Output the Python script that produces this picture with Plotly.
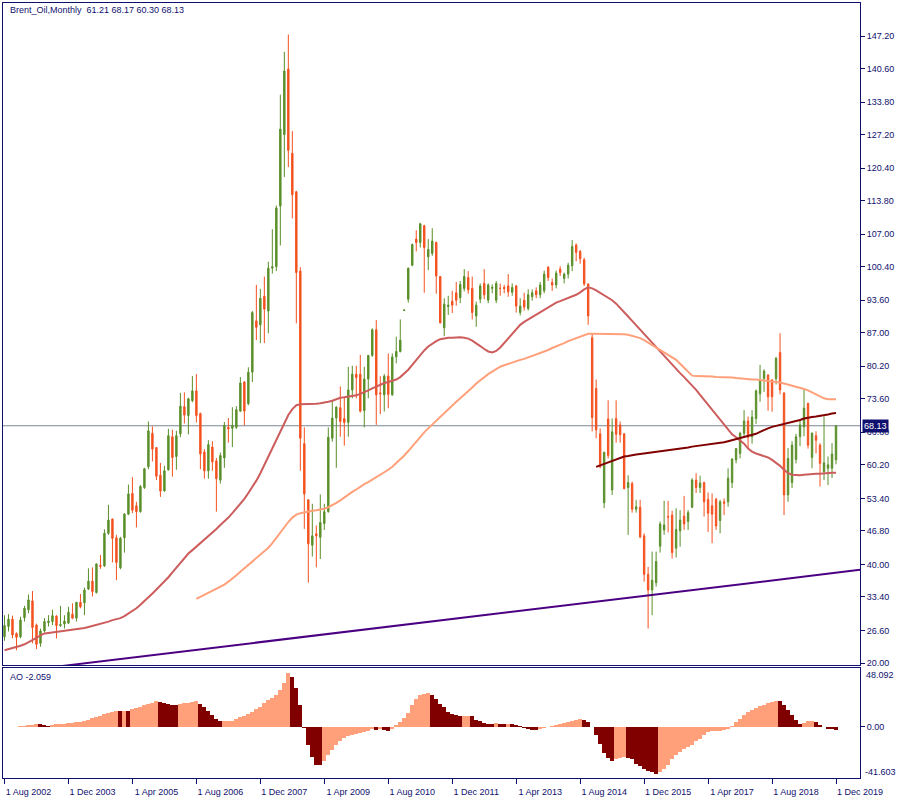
import plotly.graph_objects as go

# ---------------- data (monthly bars, Aug 2002 .. Dec 2019) ----------------
bar_open = [25.3,27.4,28.9,26.0,25.3,29.2,30.8,32.6,27.7,24.0,
26.5,28.2,28.4,29.5,27.6,27.9,28.1,29.9,29.1,32.3,
32.2,35.0,36.6,34.3,39.8,39.7,46.3,49.2,45.4,39.3,
45.4,50.2,54.4,51.9,50.7,55.6,59.8,66.6,63.7,58.1,
54.9,59.2,65.9,61.9,66.5,72.0,70.2,73.2,75.2,70.6,
62.8,59.0,63.8,61.0,57.1,61.6,67.8,67.6,67.8,71.1,
77.0,72.6,79.0,89.4,88.6,94.4,91.4,100.1,100.4,112.7,
127.2,140.5,123.4,115.6,99.5,64.5,53.1,43.9,46.2,45.5,
48.3,50.7,65.6,69.7,71.8,69.6,68.8,75.4,78.6,78.6,
71.2,77.6,82.4,87.6,74.8,74.4,78.2,74.4,82.1,83.2,
91.5,93.8,100.7,106.0,105.3,108.7,102.4,103.1,105.3,98.4,
88.0,92.3,93.4,95.1,94.1,96.0,98.2,96.0,90.4,93.8,
97.0,93.6,96.0,93.6,96.0,96.2,96.5,95.2,96.5,91.1,
93.6,91.9,94.3,95.5,94.7,95.5,100.3,97.2,96.7,99.9,
98.0,98.9,100.6,104.8,103.5,101.8,96.9,86.0,75.7,66.5,
52.5,69.5,55.1,69.6,68.3,66.5,55.6,56.4,51.2,51.6,
45.8,38.0,34.8,36.3,43.7,47.0,49.7,50.0,43.3,46.8,
49.8,48.7,51.6,57.1,55.6,56.6,53.2,51.9,53.2,48.9,
52.7,52.7,56.6,61.2,62.5,66.6,69.1,65.9,69.6,74.6,
77.7,78.4,77.4,77.7,83.0,74.8,54.1,56.6,61.3,65.9,
67.9,72.7,61.7,66.1,64.2,58.8,59.5,59.5,61.21]

bar_high = [29.7,29.9,29.6,26.2,29.4,31.6,33.9,34.6,28.0,27.0,
29.1,29.7,30.8,29.7,31.6,29.7,31.4,32.1,32.4,34.0,
35.3,39.2,39.4,40.2,41.9,47.1,52.1,49.3,46.0,45.6,
50.4,56.2,57.7,52.7,56.1,59.6,69.0,68.0,63.8,60.6,
60.0,67.5,67.3,67.1,74.8,74.9,73.8,78.2,78.6,70.8,
63.4,65.2,65.0,61.6,62.7,68.9,69.7,71.9,72.1,78.0,
77.2,80.0,91.4,96.7,95.9,98.4,101.4,108.0,112.8,135.3,
144.0,147.5,127.9,115.8,100.3,67.8,53.2,52.3,47.9,54.2,
52.3,67.8,73.4,72.1,76.1,74.0,80.1,80.3,80.3,82.5,
80.1,82.5,87.9,89.6,78.2,78.6,82.8,82.8,86.2,89.7,
91.7,100.2,105.1,107.8,109.3,108.9,106.0,108.2,105.5,98.5,
94.0,94.5,95.5,97.3,97.5,99.9,99.5,98.4,93.3,97.0,
99.9,97.0,96.8,97.5,97.0,96.7,98.9,97.0,96.7,94.0,
95.1,95.8,95.8,96.2,97.3,99.6,100.5,98.0,99.6,100.5,
99.2,101.2,105.8,105.1,103.8,102.2,97.0,86.9,77.5,67.6,
62.9,73.3,69.6,73.3,69.0,66.6,58.1,56.8,53.1,53.1,
46.3,39.5,42.6,42.6,48.7,52.9,52.9,50.9,51.4,51.0,
53.9,51.0,57.5,58.5,58.0,56.8,54.6,54.4,53.5,53.1,
53.4,59.5,61.5,63.6,66.9,71.3,70.0,71.3,75.5,80.5,
79.6,78.6,77.6,82.1,86.9,74.9,63.6,65.0,66.5,69.3,
75.5,72.7,66.8,67.0,64.6,70.0,61.9,64.6,68.17]

bar_low = [24.5,26.4,25.0,22.6,25.0,28.4,30.1,24.0,22.8,23.3,
26.2,27.4,27.7,25.0,27.3,27.0,27.9,28.9,28.4,31.1,
29.7,34.8,33.5,34.1,39.1,39.5,46.0,40.4,36.8,39.0,
42.4,50.0,50.4,47.5,50.5,55.3,59.3,60.9,57.1,53.7,
54.8,59.0,57.8,59.2,65.8,68.6,66.4,72.9,68.8,59.3,
57.4,57.4,59.0,50.7,56.4,59.6,64.7,63.8,67.5,70.9,
68.2,72.3,77.0,85.5,84.9,84.9,86.9,99.0,99.5,104.7,
118.6,120.6,110.2,88.9,59.0,47.2,36.3,41.6,39.4,41.1,
47.0,50.5,64.9,59.6,65.9,64.1,65.9,73.7,73.7,70.8,
67.8,73.7,82.1,68.3,70.5,71.0,71.7,74.2,80.8,83.0,
91.5,93.1,100.5,103.5,104.3,95.1,99.7,102.6,94.9,88.9,
86.3,90.6,91.0,92.5,93.0,95.4,94.9,89.7,88.2,93.0,
93.8,93.0,95.0,93.0,94.5,95.0,94.3,94.5,91.1,90.5,
91.5,91.5,93.5,94.0,94.0,95.0,97.5,95.5,96.0,98.5,
97.0,98.0,99.5,101.5,101.0,96.5,88.6,67.0,65.6,59.5,
51.4,61.5,54.1,64.7,64.7,55.2,46.0,50.5,50.5,45.3,
36.5,27.0,29.7,35.5,42.4,46.0,46.5,41.2,41.4,43.6,
47.0,47.0,51.4,54.5,54.5,49.7,46.6,44.3,47.0,46.3,
50.0,51.7,55.5,60.5,61.5,66.0,63.5,64.5,68.5,73.0,
75.0,71.2,71.0,76.5,74.5,50.0,52.7,55.5,60.5,64.0,
66.0,63.5,59.5,62.5,55.8,57.1,56.1,57.5,60.30]

bar_close = [27.6,28.9,25.7,25.2,28.7,31.1,32.8,27.2,23.8,26.5,
28.4,28.5,29.6,27.6,27.8,28.5,30.3,29.1,32.3,31.4,
34.8,36.6,34.5,40.1,39.6,46.3,49.0,45.3,40.4,45.3,
50.2,54.3,51.0,50.7,55.8,59.4,67.1,63.4,57.9,54.9,
59.0,66.1,61.7,66.1,72.1,70.3,73.6,75.2,70.2,62.4,
59.0,64.3,60.8,57.4,62.1,68.2,67.5,68.2,71.4,76.8,
71.1,79.0,91.1,88.1,94.0,91.8,100.1,100.4,112.3,128.3,
140.1,124.0,115.0,99.2,65.6,54.3,44.2,45.8,45.8,48.5,
50.7,65.8,69.7,71.9,69.0,68.8,75.4,78.6,77.9,71.1,
77.6,82.4,87.6,74.4,74.6,78.2,74.5,82.1,83.2,85.5,
91.6,100.1,104.9,105.3,109.1,104.3,103.9,105.6,98.5,89.0,
92.8,92.6,92.6,93.6,96.8,98.4,95.7,91.1,92.6,96.5,
94.7,96.7,96.2,97.0,96.0,96.0,95.3,96.2,92.4,92.4,
92.2,94.7,95.1,94.7,96.7,98.9,98.2,96.7,99.1,99.2,
98.9,100.7,104.5,103.3,102.0,96.9,90.4,69.8,67.3,59.8,
62.7,62.1,66.9,66.4,66.3,55.4,56.6,51.2,51.7,45.6,
38.0,34.8,36.8,40.6,48.2,48.0,49.6,42.4,47.1,49.0,
48.2,50.5,57.1,55.6,56.5,52.7,50.4,50.2,47.8,52.7,
52.4,57.5,61.4,63.5,66.6,69.1,65.8,69.9,75.2,77.4,
79.2,74.0,74.0,81.8,75.4,54.1,61.5,64.2,65.9,68.3,
71.7,64.2,66.6,65.2,60.5,60.6,60.2,62.4,68.13]

ma_red = [22.6,22.8,23.0,23.2,23.5,23.8,24.2,24.6,25.1,25.6,
26.0,26.1,26.2,26.3,26.4,26.5,26.6,26.7,26.8,26.9,
27.1,27.3,27.5,27.7,27.9,28.1,28.4,28.7,28.9,29.1,
29.5,30.0,30.5,31.1,31.8,32.5,33.3,34.1,34.9,35.7,
36.5,37.4,38.4,39.4,40.4,41.4,42.2,42.9,43.6,44.3,
45.0,45.7,46.4,47.2,48.0,48.7,49.5,50.4,51.3,52.3,
53.3,54.5,55.7,57.0,58.5,60.2,61.9,63.5,65.2,66.9,
68.7,70.3,71.5,72.3,72.5,72.5,72.5,72.5,72.6,72.7,
72.8,73.0,73.2,73.5,73.8,73.9,74.0,74.1,74.3,74.6,
74.9,75.3,75.7,76.1,76.5,76.8,77.0,77.2,77.5,78.0,
78.7,79.5,80.5,81.5,82.5,83.4,84.2,84.8,85.3,85.7,
85.9,86.0,86.0,86.1,86.1,86.0,85.8,85.4,84.9,84.3,
83.7,83.2,83.0,83.3,84.0,84.9,85.9,86.9,87.8,88.6,
89.2,89.7,90.2,90.7,91.2,91.7,92.2,92.7,93.1,93.4,
93.7,94.0,94.3,94.7,95.2,95.8,96.2,96.0,95.6,95.1,
94.6,94.1,93.6,92.9,92.1,91.2,90.3,89.4,88.5,87.6,
86.7,85.8,84.9,84.0,83.1,82.3,81.4,80.5,79.6,78.8,
78.0,77.2,76.3,75.4,74.4,73.4,72.4,71.3,70.3,69.3,
68.3,67.3,66.4,65.8,65.2,64.5,63.5,62.9,62.5,62.2,
62.0,61.7,61.2,60.6,60.0,59.2,58.5,58.2,58.1,58.1,
58.2,58.3,58.3,58.4,58.4,58.5,58.5,58.6,58.6]

ma_salmon_start = 48
ma_salmon = [33.0,33.4,33.9,34.3,34.7,35.1,35.5,35.9,36.5,37.1,
37.8,38.5,39.2,39.9,40.6,41.3,42.0,42.6,43.4,44.3,
45.4,46.4,47.5,48.6,49.5,50.1,50.4,50.6,50.8,50.9,
51.0,51.1,51.3,51.6,52.0,52.5,53.0,53.6,54.1,54.7,
55.2,55.8,56.3,56.7,57.2,57.6,58.1,58.6,59.2,59.8,
60.5,61.2,62.1,63.0,64.0,64.9,65.9,66.8,67.6,68.4,
69.2,70.0,70.8,71.5,72.3,73.0,73.7,74.4,75.2,75.9,
76.7,77.4,78.0,78.6,79.1,79.6,80.1,80.4,80.7,81.0,
81.2,81.5,81.7,82.0,82.3,82.5,82.8,83.1,83.5,83.9,
84.2,84.6,84.9,85.3,85.6,86.0,86.3,86.6,86.8,86.8,
86.8,86.8,86.8,86.8,86.8,86.8,86.8,86.7,86.6,86.4,
86.2,85.9,85.5,85.0,84.5,84.0,83.5,83.0,82.5,82.0,
81.5,80.7,79.9,79.0,78.3,78.2,78.2,78.1,78.1,78.1,
78.0,78.0,78.0,77.9,77.9,77.8,77.7,77.6,77.6,77.5,
77.5,77.4,77.4,77.3,77.2,77.1,76.9,76.7,76.5,76.3,
76.1,75.9,75.6,75.3,74.9,74.5,74.1,73.7,73.5,73.5,
73.5]

ma_maroon_start = 148
ma_maroon = [59.8,60.1,60.4,60.8,61.1,61.4,61.7,61.9,62.0,62.2,
62.3,62.4,62.5,62.6,62.7,62.8,62.9,63.1,63.2,63.3,
63.4,63.5,63.6,63.7,63.9,64.0,64.1,64.2,64.3,64.4,
64.6,64.7,64.8,65.0,65.2,65.4,65.6,65.8,66.0,66.2,
66.5,66.9,67.3,67.6,67.9,68.1,68.3,68.4,68.6,68.8,
69.0,69.3,69.6,69.8,69.9,70.0,70.1,70.3,70.4,70.6,
70.7]

trend_x = [14.5, 214.0]
trend_y = [19.4, 38.9]

ao_values = [0.2,0.25,0.3,0.35,0.8,1.2,1.6,2.0,2.6,2.4,
1.3,0.8,1.5,2.2,2.6,2.8,3.0,3.2,3.8,4.4,
5.2,6.1,7.0,8.0,9.2,10.3,11.5,12.5,13.0,12.8,
13.3,12.9,14.3,15.5,16.5,17.6,18.7,19.8,20.8,20.4,
19.7,19.0,18.3,17.8,18.5,19.2,19.8,20.4,20.9,18.5,
16.0,12.8,9.5,6.5,4.6,4.7,4.8,4.9,6.6,7.9,
9.3,10.9,12.5,14.7,16.6,19.3,22.0,23.9,25.8,29.9,
36.1,44.3,40.7,31.8,17.7,-0.6,-14.4,-24.8,-30.7,-31.3,
-28.0,-23.1,-19.1,-15.0,-11.4,-8.7,-7.4,-6.3,-5.7,-5.2,
-4.1,-3.0,-1.9,-2.5,-1.9,-2.6,-3.3,-1.9,1.3,4.0,
7.6,11.7,17.6,22.5,25.8,27.1,28.0,26.3,22.5,19.0,
16.3,12.2,10.8,9.5,8.9,9.2,9.3,8.9,5.4,4.6,
3.5,2.7,2.5,3.5,2.7,2.5,2.8,2.1,1.3,0.5,
-0.8,-1.9,-2.4,-2.5,-1.9,-0.8,0.0,0.8,1.6,2.4,
3.2,4.0,4.9,5.4,6.2,5.9,4.0,0.0,-6.3,-13.6,
-21.0,-25.3,-28.0,-25.8,-25.0,-24.5,-25.3,-25.8,-29.9,-31.8,
-34.0,-35.6,-36.7,-38.1,-36.7,-34.0,-30.7,-25.8,-23.1,-20.4,
-18.2,-16.3,-14.4,-11.7,-9.5,-6.8,-4.1,-3.6,-3.3,-3.0,
-2.2,-1.4,0.5,4.0,6.8,10.0,12.2,14.1,15.7,17.1,
18.2,19.5,20.6,21.2,20.9,17.6,13.5,9.5,6.0,2.1,
2.9,4.5,5.0,3.8,1.8,0.2,-1.5,-2.0,-2.059]

price_ticks = [147.20,140.60,133.80,127.20,120.40,113.80,107.00,100.40,93.60,87.00,
               80.20,73.60,66.80,60.20,53.40,46.80,40.00,33.40,26.60,20.00]
date_tick_bars = list(range(0, 209, 16))
date_tick_labels = ["1 Aug 2002","1 Dec 2003","1 Apr 2005","1 Aug 2006","1 Dec 2007",
                    "1 Apr 2009","1 Aug 2010","1 Dec 2011","1 Apr 2013","1 Aug 2014",
                    "1 Dec 2015","1 Apr 2017","1 Aug 2018","1 Dec 2019"]
ao_max, ao_min = 48.092, -41.603
last_price = 68.13
title_text = "Brent_Oil,Monthly\u00a0\u00a061.21 68.17 60.30 68.13"
ao_label = "AO -2.059"

# ---------------- styling ----------------
BULL = "#5a8f29"
BEAR = "#f4511e"
NAVY = "#10106e"
FONT = "Liberation Sans"
W, H = 900, 800
X_L, X_R = 2.5, 860.0          # plot left / right in px
MAIN_T, MAIN_B = 3.0, 665.0
AO_T, AO_B = 668.0, 778.0
PX_PER_PRICE = 0.20287

def ydom(top, bot):
    return [(H - bot) / H, (H - top) / H]

y_lo = 20.0 - (MAIN_B - 663.0) * PX_PER_PRICE
y_hi = 20.0 + (663.0 - MAIN_T) * PX_PER_PRICE

n = len(bar_close)
xs = list(range(n))

fig = go.Figure()
fig.add_trace(go.Candlestick(
    x=xs, open=bar_open, high=bar_high, low=bar_low, close=bar_close,
    increasing=dict(line=dict(color=BULL, width=1), fillcolor=BULL),
    decreasing=dict(line=dict(color=BEAR, width=1), fillcolor=BEAR),
    whiskerwidth=0, hoverinfo="skip", showlegend=False, xaxis="x", yaxis="y"))

fig.add_trace(go.Scatter(x=xs, y=ma_red, mode="lines",
                         line=dict(color="#cd5c5c", width=2), hoverinfo="skip"))
fig.add_trace(go.Scatter(x=list(range(ma_salmon_start, ma_salmon_start + len(ma_salmon))),
                         y=ma_salmon, mode="lines",
                         line=dict(color="#ffa07a", width=2), hoverinfo="skip"))
fig.add_trace(go.Scatter(x=list(range(ma_maroon_start, ma_maroon_start + len(ma_maroon))),
                         y=ma_maroon, mode="lines",
                         line=dict(color="#800000", width=2), hoverinfo="skip"))
fig.add_trace(go.Scatter(x=trend_x, y=trend_y, mode="lines",
                         line=dict(color="#4b0082", width=2), hoverinfo="skip"))

ao_colors = []
for i, v in enumerate(ao_values):
    if i > 0 and v < ao_values[i - 1]:
        ao_colors.append("#800000")
    else:
        ao_colors.append("#ffa07a")
fig.add_trace(go.Bar(x=xs, y=ao_values, width=1.0, marker=dict(color=ao_colors, line=dict(width=0)),
                     hoverinfo="skip", xaxis="x2", yaxis="y2"))

axis_common = dict(showgrid=False, zeroline=False, showline=True, mirror=True,
                   linecolor=NAVY, linewidth=1, automargin=False)
xr = [-0.5, 214.0]
fig.update_layout(
    width=W, height=H, margin=dict(l=0, r=0, t=0, b=0, pad=0, autoexpand=False),
    paper_bgcolor="white", plot_bgcolor="white", showlegend=False,
    boxgap=0.5, bargap=0,
    font=dict(family=FONT, size=9, color=NAVY),
    xaxis=dict(domain=[X_L / W, X_R / W], range=xr, anchor="y", showticklabels=False,
               ticks="", rangeslider=dict(visible=False), **axis_common),
    yaxis=dict(domain=ydom(MAIN_T, MAIN_B), range=[y_lo, y_hi], anchor="x", side="right",
               tickvals=price_ticks, ticktext=[f"{v:.2f}" for v in price_ticks],
               ticks="outside", ticklen=4, tickcolor=NAVY,
               tickfont=dict(family=FONT, size=9, color=NAVY), **axis_common),
    xaxis2=dict(domain=[X_L / W, X_R / W], range=xr, anchor="y2",
                tickvals=date_tick_bars, ticktext=date_tick_labels,
                ticks="outside", ticklen=5, tickcolor=NAVY, ticklabelshift=24,
                tickfont=dict(family=FONT, size=9, color=NAVY), **axis_common),
    yaxis2=dict(domain=ydom(AO_T, AO_B), range=[ao_min, ao_max], anchor="x2", side="right",
                tickvals=[0], ticktext=["0.00"], ticks="outside", ticklen=4, tickcolor=NAVY,
                tickfont=dict(family=FONT, size=9, color=NAVY), **axis_common),
)

# bid line
fig.add_shape(type="line", xref="x", yref="y", x0=xr[0], x1=xr[1], y0=last_price, y1=last_price,
              line=dict(color="#7b8794", width=1), layer="below")

ann = []
ann.append(dict(text=title_text, xref="paper", yref="paper", x=8 / W, y=(H - 10) / H,
                xanchor="left", yanchor="middle", showarrow=False,
                font=dict(family=FONT, size=9, color=NAVY)))
ann.append(dict(text=ao_label, xref="paper", yref="paper", x=8 / W, y=(H - 677) / H,
                xanchor="left", yanchor="middle", showarrow=False,
                font=dict(family=FONT, size=9, color=NAVY)))
ann.append(dict(text=f"{ao_max:.3f}", xref="paper", yref="paper", x=864 / W, y=(H - 675) / H,
                xanchor="left", yanchor="middle", showarrow=False,
                font=dict(family=FONT, size=9, color=NAVY)))
ann.append(dict(text=f"{ao_min:.3f}", xref="paper", yref="paper", x=863 / W, y=(H - 772) / H,
                xanchor="left", yanchor="middle", showarrow=False,
                font=dict(family=FONT, size=9, color=NAVY)))
ann.append(dict(text=f"{last_price:.2f}", xref="paper", yref="y", x=862 / W, y=last_price,
                xanchor="left", yanchor="middle", showarrow=False, bgcolor="#10106e",
                borderpad=1, font=dict(family=FONT, size=9, color="white")))
fig.update_layout(annotations=ann)

fig.write_html("out.html", config={"displayModeBar": False, "staticPlot": True},
               post_script="document.body.style.margin='0px';document.body.style.overflow='hidden';")
